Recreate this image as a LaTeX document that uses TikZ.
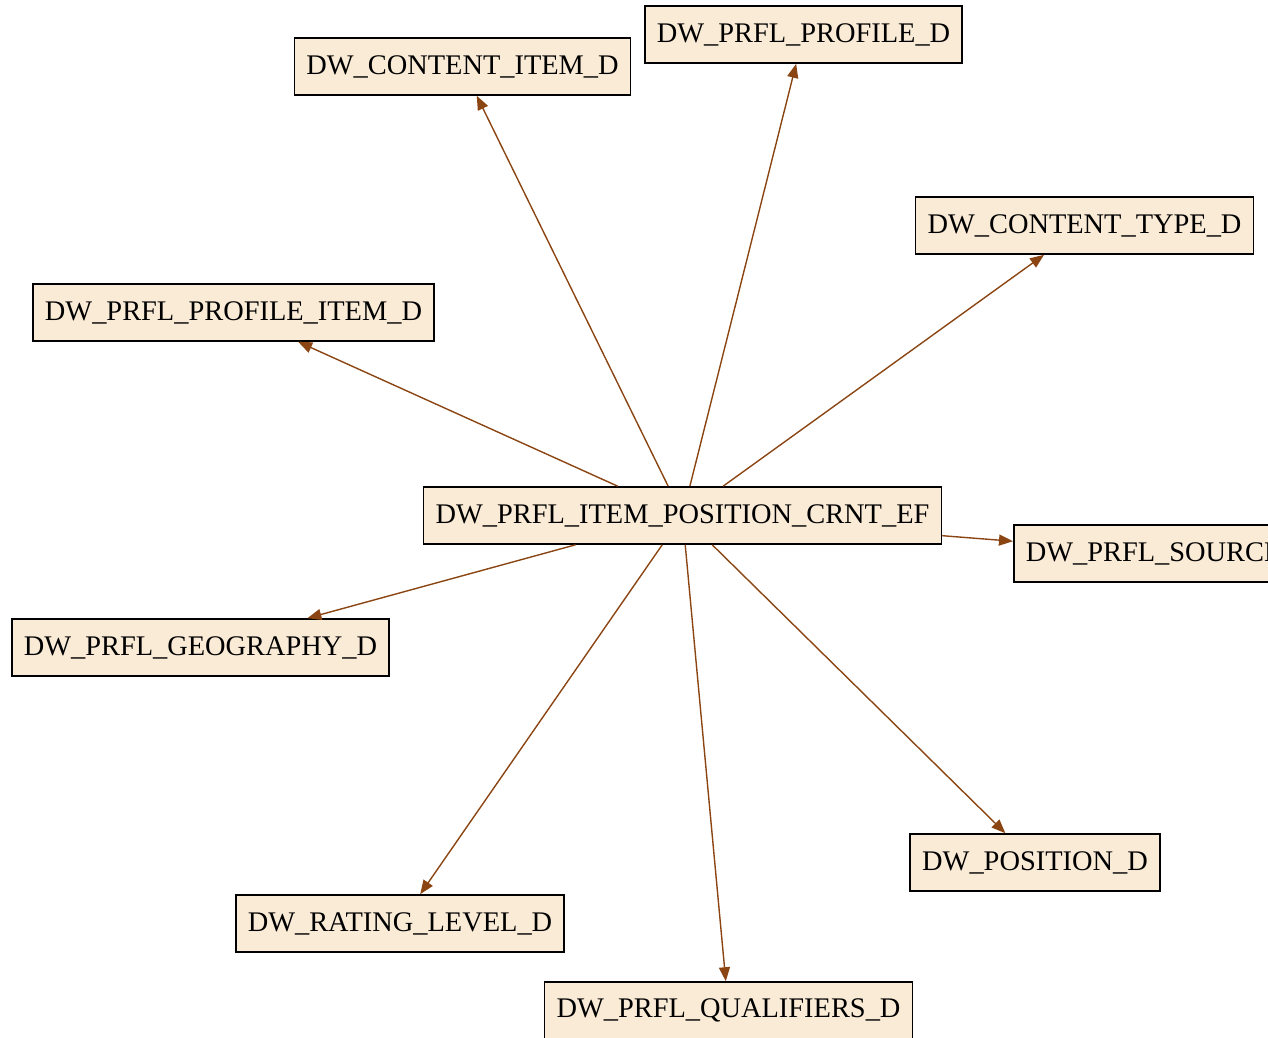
\documentclass[tikz,border=0pt]{standalone}
\usepackage{fontspec}
\setmainfont{Liberation Serif}
\usepackage{tikz}
\usetikzlibrary{arrows.meta}
\definecolor{antique}{HTML}{FAEBD7}
\definecolor{saddle}{HTML}{8B4513}

\begin{document}
\begin{tikzpicture}[x=1pt,y=-1pt,>={Triangle[length=14pt,width=11pt]},
    tbl/.style={draw=black,line width=1.6pt,fill=antique,minimum height=57pt,inner xsep=12pt,
      font=\fontsize{28.4}{34}\selectfont},
    rel/.style={->,saddle,line width=1.4pt}]
  \useasboundingbox (0,0) rectangle (1268,1037);
  \clip (0,0) rectangle (1268,1037);

  \node[tbl] (ef) at (682.5,515.5) {DW\_PRFL\_ITEM\_POSITION\_CRNT\_EF};

  \node[tbl] (citem) at (462.5,66.5) {DW\_CONTENT\_ITEM\_D};
  \node[tbl] (prof) at (803.5,34.5) {DW\_PRFL\_PROFILE\_D};
  \node[tbl] (ctype) at (1084.5,225.5) {DW\_CONTENT\_TYPE\_D};
  \node[tbl] (pitem) at (233.5,312.5) {DW\_PRFL\_PROFILE\_ITEM\_D};
  \node[tbl,anchor=west] (src) at (1013,553.5) {DW\_PRFL\_SOURCE\_D};
  \node[tbl] (geo) at (200.5,647.5) {DW\_PRFL\_GEOGRAPHY\_D};
  \node[tbl] (pos) at (1035,862.5) {DW\_POSITION\_D};
  \node[tbl] (rate) at (400,923.5) {DW\_RATING\_LEVEL\_D};
  \node[tbl] (qual) at (728.5,1010.5) {DW\_PRFL\_QUALIFIERS\_D};

  \draw[rel] (ef) -- (citem);
  \draw[rel] (ef) -- (prof);
  \draw[rel] (ef) -- (ctype);
  \draw[rel] (ef) -- (pitem);
  \draw[rel] (ef) -- (src);
  \draw[rel] (ef) -- (geo);
  \draw[rel] (ef) -- (pos);
  \draw[rel] (ef) -- (rate);
  \draw[rel] (ef) -- (qual);
\end{tikzpicture}
\end{document}
